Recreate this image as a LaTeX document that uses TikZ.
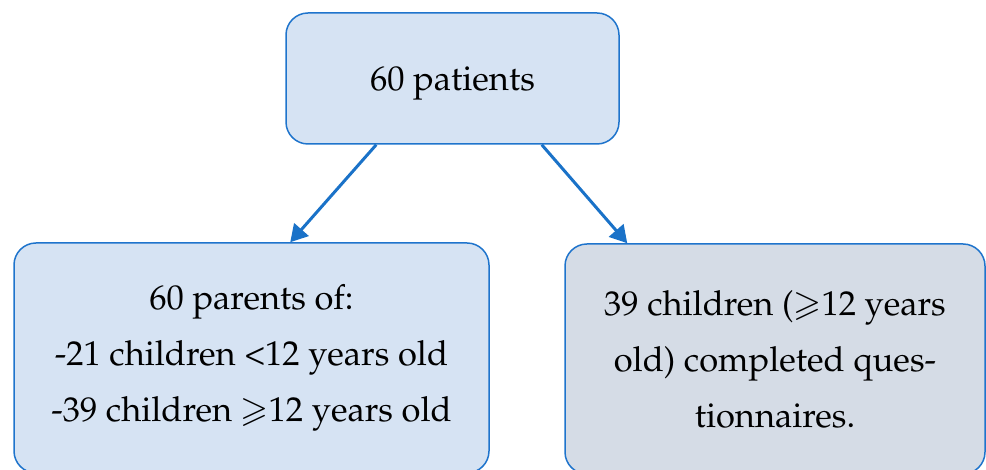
\documentclass[tikz,border=0pt]{standalone}
\usepackage[T1]{fontenc}
\usepackage{mathpazo}
\usepackage{amssymb}
\usetikzlibrary{arrows.meta,calc}
\definecolor{boxblue}{HTML}{D6E3F3}
\definecolor{boxgray}{HTML}{D5DCE6}
\definecolor{edgeblue}{HTML}{1F74CC}
\definecolor{arrowblue}{HTML}{1A72C8}
\tikzset{
  roundbox/.style={draw=edgeblue, line width=1.5pt, rounded corners=22pt, inner sep=0pt,
    align=center, font=\fontsize{34.5}{56}\selectfont},
  flowarrow/.style={draw=arrowblue, line width=3pt, -{Triangle[length=17pt,width=19pt]}}
}
\begin{document}
\begin{tikzpicture}[x=1pt,y=1pt]
\useasboundingbox (0,0) rectangle (986,470);
\node[roundbox, fill=boxblue, minimum width=333pt, minimum height=131pt] (top) at (452.5,391.5) {\rule{0pt}{0.95em}60 patients};
\node[roundbox, fill=boxblue, minimum width=475pt, minimum height=230pt] (left) at (251.5,112) {60 parents of:\\-21 children <12 years old\\-39 children $\geqslant$12 years old};
\node[roundbox, fill=boxgray, minimum width=420pt, minimum height=230pt] (right) at (775,111) {39 children ($\geqslant$12 years\\old) completed ques-\\tionnaires.};
\coordinate (a1) at ($(top.south west)+(91,0)$);
\coordinate (a2) at ($(top.south east)+(-78,0)$);
\coordinate (b1) at ($(left.north west)+(277,0)$);
\coordinate (b2) at ($(right.north west)+(63,0)$);
\draw[flowarrow] (a1) -- (b1);
\draw[flowarrow] (a2) -- (b2);
\end{tikzpicture}
\end{document}
